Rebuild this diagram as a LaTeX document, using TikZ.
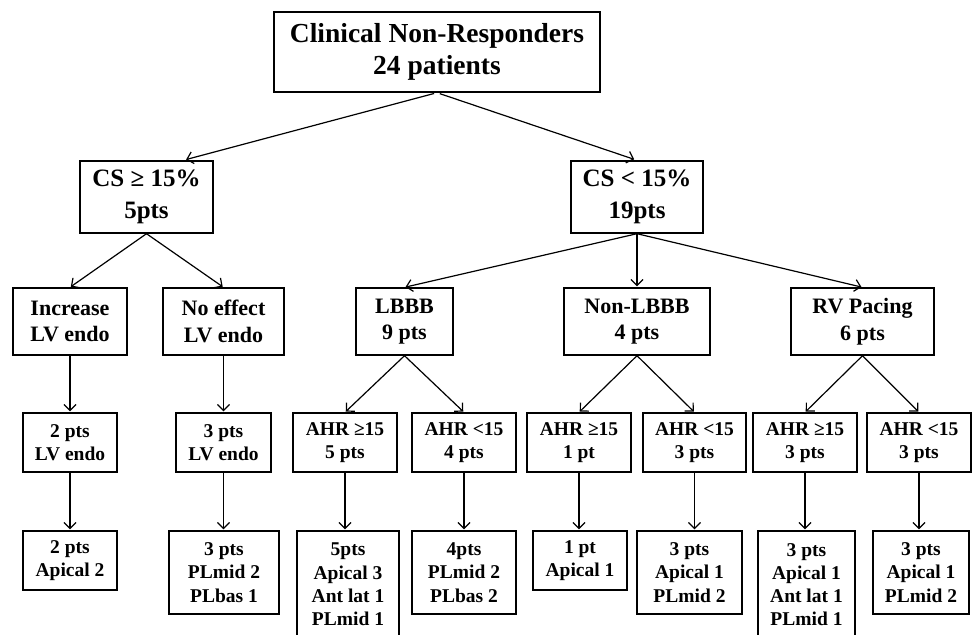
\documentclass[tikz,border=0pt]{standalone}
\usepackage{fontspec}
\setmainfont{Liberation Serif}
\usetikzlibrary{arrows.meta}

\begin{document}
\begin{tikzpicture}[x=1pt,y=-1pt,
  root/.style={draw,line width=1.4pt,align=center,inner sep=0pt,minimum width=326pt,minimum height=80pt,font=\bfseries\fontsize{27.5}{32}\selectfont},
  split/.style={draw,line width=1.4pt,align=center,inner sep=0pt,minimum height=72pt,font=\bfseries\fontsize{25}{32}\selectfont},
  group/.style={draw,line width=1.4pt,align=center,inner sep=0pt,minimum height=67pt,font=\bfseries\fontsize{22}{26.5}\selectfont},
  sub/.style={draw,line width=1.4pt,align=center,inner sep=0pt,minimum height=59pt,font=\bfseries\fontsize{19.5}{22.5}\selectfont},
  site/.style={draw,line width=1.4pt,align=center,inner sep=0pt,font=\bfseries\fontsize{19.5}{23.2}\selectfont},
  link/.style={line width=1.2pt,-{Straight Barb[length=6pt,width=12pt]},shorten >=1pt}]
\useasboundingbox (0,0) rectangle (973,634);
% top and first split
\node[root] (all) at (437,52) {Clinical Non-Responders\\24 patients};
\node[split,minimum width=133pt] (csHi) at (146.5,197) {CS ≥ 15\%\\5pts};
\node[split,minimum width=132pt] (csLo) at (637,197) {CS < 15\%\\19pts};
% second level
\node[group,minimum width=114pt] (incr) at (70,321.5) {Increase\\LV endo};
\node[group,minimum width=121pt] (noeff) at (223.5,321.5) {No effect\\LV endo};
\node[group,minimum width=97pt] (lbbb) at (404.5,321.5) {LBBB\\9 pts};
\node[group,minimum width=146pt] (nonlbbb) at (637,321.5) {Non-LBBB\\4 pts};
\node[group,minimum width=143pt] (rvpace) at (862.5,321.5) {RV Pacing\\6 pts};
% third level
\node[sub,minimum width=94pt] (incrPts) at (70,442.5) {2 pts\\LV endo};
\node[sub,minimum width=95pt] (noeffPts) at (223.5,442.5) {3 pts\\LV endo};
\node[sub,minimum width=104pt] (lbbbHi) at (345,442.5) {AHR ≥15\\5 pts};
\node[sub,minimum width=104pt] (lbbbLo) at (464,442.5) {AHR <15\\4 pts};
\node[sub,minimum width=104pt] (nonHi) at (579,442.5) {AHR ≥15\\1 pt};
\node[sub,minimum width=103pt] (nonLo) at (694.5,442.5) {AHR <15\\3 pts};
\node[sub,minimum width=104pt] (rvHi) at (805,442.5) {AHR ≥15\\3 pts};
\node[sub,minimum width=104pt] (rvLo) at (919,442.5) {AHR <15\\3 pts};
% pacing sites
\node[site,minimum width=94pt,minimum height=59pt] (incrSite) at (70,560.5) {2 pts\\Apical 2};
\node[site,minimum width=110pt,minimum height=83pt] (noeffSite) at (224,572.5) {3 pts\\PLmid 2\\PLbas 1};
\node[site,minimum width=102pt,minimum height=107pt] (lbbbHiSite) at (348,584.5) {5pts\\Apical 3\\Ant  lat 1\\PLmid 1};
\node[site,minimum width=104pt,minimum height=83pt] (lbbbLoSite) at (464,572.5) {4pts\\PLmid 2\\PLbas 2};
\node[site,minimum width=94pt,minimum height=59pt] (nonHiSite) at (580,560.5) {1 pt\\Apical 1};
\node[site,minimum width=105pt,minimum height=83pt] (nonLoSite) at (689.5,572.5) {3 pts\\Apical 1\\PLmid 2};
\node[site,minimum width=97pt,minimum height=107pt] (rvHiSite) at (806.5,584.5) {3 pts\\Apical 1\\Ant  lat 1\\PLmid 1};
\node[site,minimum width=96pt,minimum height=83pt] (rvLoSite) at (921,572.5) {3 pts\\Apical 1\\PLmid 2};
% connectors
\draw[link,shorten <=3pt,shorten >=3pt] (all.south) -- (csHi.45);
\draw[link,shorten <=3pt,shorten >=3pt] (all.south) -- (csLo.north);
\draw[link] (csHi.south) -- (incr.north);
\draw[link] (csHi.south) -- (noeff.north);
\draw[link] (csLo.south) -- (lbbb.north);
\draw[link] (csLo.south) -- (nonlbbb.north);
\draw[link] (csLo.south) -- (rvpace.north);
\draw[link] (incr.south) -- (incrPts.north);
\draw[link] (noeff.south) -- (noeffPts.north);
\draw[link] (lbbb.south) -- (lbbbHi.north);
\draw[link] (lbbb.south) -- (lbbbLo.north);
\draw[link] (nonlbbb.south) -- (nonHi.north);
\draw[link] (nonlbbb.south) -- (nonLo.north);
\draw[link] (rvpace.south) -- (rvHi.north);
\draw[link] (rvpace.south) -- (rvLo.north);
\draw[link] (incrPts.south) -- (incrPts.south |- incrSite.north);
\draw[link] (noeffPts.south) -- (noeffPts.south |- noeffSite.north);
\draw[link] (lbbbHi.south) -- (lbbbHi.south |- lbbbHiSite.north);
\draw[link] (lbbbLo.south) -- (lbbbLo.south |- lbbbLoSite.north);
\draw[link] (nonHi.south) -- (nonHi.south |- nonHiSite.north);
\draw[link] (nonLo.south) -- (nonLo.south |- nonLoSite.north);
\draw[link] (rvHi.south) -- (rvHi.south |- rvHiSite.north);
\draw[link] (rvLo.south) -- (rvLo.south |- rvLoSite.north);
\end{tikzpicture}
\end{document}
